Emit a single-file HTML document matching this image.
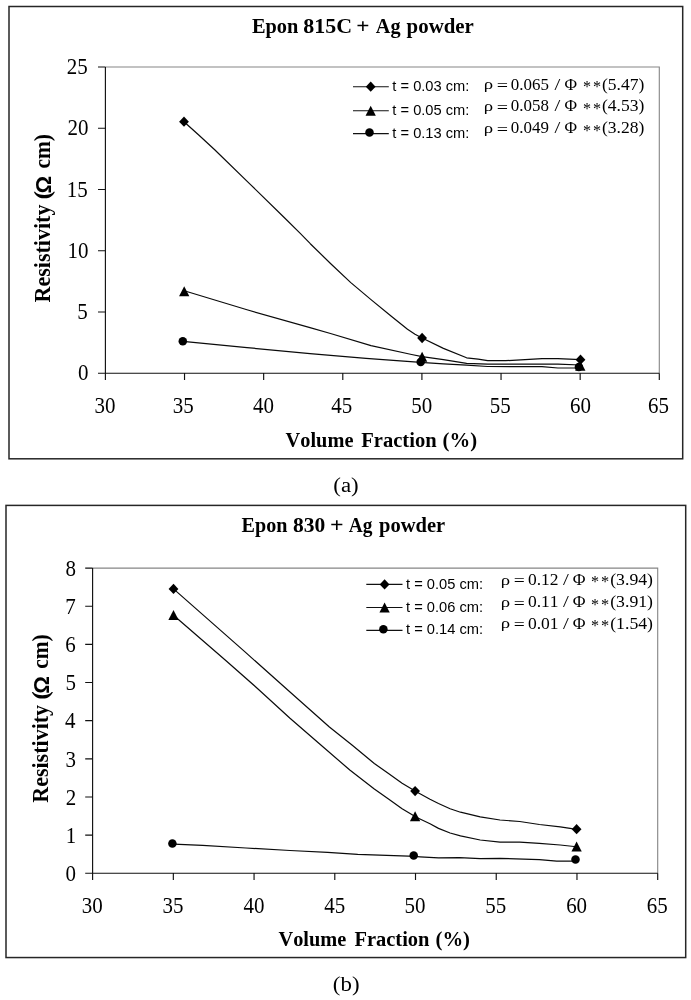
<!DOCTYPE html>
<html lang="en"><head><meta charset="utf-8"><title>Resistivity vs Volume Fraction</title>
<style>html,body{margin:0;padding:0;background:#fff}body{width:691px;height:1000px;overflow:hidden}svg{display:block}text{fill:#000;font-kerning:none}</style></head><body>
<svg width="691" height="1000" viewBox="0 0 691 1000">
<rect width="691" height="1000" fill="#fff"/>
<rect x="9" y="6.5" width="673.7" height="452.3" fill="#fff" stroke="#262626" stroke-width="1.5"/>
<path d="M105.4 67H659.3V373.2" fill="none" stroke="#858585" stroke-width="1.1"/>
<path d="M105.4 67V380M98 373.2H659.3M98 311.96H105.4M98 250.72H105.4M98 189.48H105.4M98 128.24H105.4M98 67H105.4M184.53 373.2V380M263.66 373.2V380M342.79 373.2V380M421.91 373.2V380M501.04 373.2V380M580.17 373.2V380M659.3 373.2V380" fill="none" stroke="#111" stroke-width="1.15"/>
<text font-family='"Liberation Serif", "DejaVu Serif", serif' font-size="23.3"><tspan x="77.91" y="380.4" textLength="10.48" lengthAdjust="spacingAndGlyphs">0</tspan></text>
<text font-family='"Liberation Serif", "DejaVu Serif", serif' font-size="23.3"><tspan x="77.13" y="319.16" textLength="10.49" lengthAdjust="spacingAndGlyphs">5</tspan></text>
<text font-family='"Liberation Serif", "DejaVu Serif", serif' font-size="23.3"><tspan x="67.43" y="257.92" textLength="20.97" lengthAdjust="spacingAndGlyphs">10</tspan></text>
<text font-family='"Liberation Serif", "DejaVu Serif", serif' font-size="23.3"><tspan x="66.65" y="196.68" textLength="20.97" lengthAdjust="spacingAndGlyphs">15</tspan></text>
<text font-family='"Liberation Serif", "DejaVu Serif", serif' font-size="23.3"><tspan x="67.43" y="135.44" textLength="20.97" lengthAdjust="spacingAndGlyphs">20</tspan></text>
<text font-family='"Liberation Serif", "DejaVu Serif", serif' font-size="23.3"><tspan x="66.65" y="74.2" textLength="20.97" lengthAdjust="spacingAndGlyphs">25</tspan></text>
<text font-family='"Liberation Serif", "DejaVu Serif", serif' font-size="23.3"><tspan x="94.51" y="413.2" textLength="20.97" lengthAdjust="spacingAndGlyphs">30</tspan></text>
<text font-family='"Liberation Serif", "DejaVu Serif", serif' font-size="23.3"><tspan x="172.75" y="413.2" textLength="20.97" lengthAdjust="spacingAndGlyphs">35</tspan></text>
<text font-family='"Liberation Serif", "DejaVu Serif", serif' font-size="23.3"><tspan x="253.07" y="413.2" textLength="20.97" lengthAdjust="spacingAndGlyphs">40</tspan></text>
<text font-family='"Liberation Serif", "DejaVu Serif", serif' font-size="23.3"><tspan x="331.21" y="413.2" textLength="20.97" lengthAdjust="spacingAndGlyphs">45</tspan></text>
<text font-family='"Liberation Serif", "DejaVu Serif", serif' font-size="23.3"><tspan x="411.32" y="413.2" textLength="20.97" lengthAdjust="spacingAndGlyphs">50</tspan></text>
<text font-family='"Liberation Serif", "DejaVu Serif", serif' font-size="23.3"><tspan x="489.76" y="413.2" textLength="20.97" lengthAdjust="spacingAndGlyphs">55</tspan></text>
<text font-family='"Liberation Serif", "DejaVu Serif", serif' font-size="23.3"><tspan x="569.94" y="413.2" textLength="20.97" lengthAdjust="spacingAndGlyphs">60</tspan></text>
<text font-family='"Liberation Serif", "DejaVu Serif", serif' font-size="23.3"><tspan x="648.07" y="413.2" textLength="20.97" lengthAdjust="spacingAndGlyphs">65</tspan></text>
<path d="M184 121.8L199 135.3L214.7 149.7L249.5 183.6L284.2 217.5L300 233.1L310.3 243.7L330.5 263.5L350.8 282.6L371 299.6L391.3 316.2L407.5 329.2L415 334.2L422.1 338L443.4 348.4L466.6 357.8L478.1 359.2L487.6 360.7L505.8 360.7L542 358.6L557.9 358.6L580.5 359.7" fill="none" stroke="#0a0a0a" stroke-width="1.2" stroke-linejoin="round"/>
<path d="M184.2 290.8L247 309.8L310 327.6L330.5 333.5L371 345.6L411.6 354.5L422.1 356.6L443.4 359.6L466.6 363.3L487.6 364.2L542 364.1L557.9 364.2L580.3 365" fill="none" stroke="#0a0a0a" stroke-width="1.2" stroke-linejoin="round"/>
<path d="M183 341.3L247 347.6L310 353.7L366 358.4L420.7 362.4L443.4 363.9L466.6 365.2L487.6 366.5L542 366.7L557.9 368L579 368" fill="none" stroke="#0a0a0a" stroke-width="1.2" stroke-linejoin="round"/>
<g fill="#000">
<circle cx="182.8" cy="341.3" r="4.25"/>
<circle cx="420.7" cy="361.9" r="4.25"/>
<circle cx="578.9" cy="367" r="4.25"/>
<path d="M184.2 286.2L189.35 296.15L179.05 296.15Z"/>
<path d="M422.1 351.8L427.25 361.75L416.95 361.75Z"/>
<path d="M580.3 360.8L585.45 370.75L575.15 370.75Z"/>
<path d="M184 116.55L188.9 121.7L184 126.85L179.1 121.7Z"/>
<path d="M422.1 332.85L427 338L422.1 343.15L417.2 338Z"/>
<path d="M580.5 354.55L585.4 359.7L580.5 364.85L575.6 359.7Z"/>
</g>
<path d="M353 86.7H388.8" stroke="#111" stroke-width="1.15"/>
<path d="M353 110.7H388.8" stroke="#111" stroke-width="1.15"/>
<path d="M353 133.6H388.8" stroke="#111" stroke-width="1.15"/>
<g fill="#000">
<path d="M370.7 81.55L375.6 86.7L370.7 91.85L365.8 86.7Z"/>
<path d="M370.7 105.7L375.85 115.65L365.55 115.65Z"/>
<circle cx="369.5" cy="132.6" r="4.25"/>
</g>
<text font-family='"Liberation Sans", "DejaVu Sans", sans-serif' font-size="14.1"><tspan x="392.38" y="90.8" textLength="76.96" lengthAdjust="spacingAndGlyphs">t = 0.03 cm:</tspan></text>
<text font-family='"Liberation Sans", "DejaVu Sans", sans-serif' font-size="14.1"><tspan x="392.38" y="114.8" textLength="76.96" lengthAdjust="spacingAndGlyphs">t = 0.05 cm:</tspan></text>
<text font-family='"Liberation Sans", "DejaVu Sans", sans-serif' font-size="14.1"><tspan x="392.38" y="137.7" textLength="76.96" lengthAdjust="spacingAndGlyphs">t = 0.13 cm:</tspan></text>
<text font-family='"Liberation Serif", "DejaVu Serif", serif' font-size="15"><tspan x="483.69" y="89.2" textLength="9.37" lengthAdjust="spacingAndGlyphs">ρ</tspan> <tspan x="496.7" y="91" font-family='"Liberation Serif", "DejaVu Serif", serif' font-size="16.2" textLength="11.27" lengthAdjust="spacingAndGlyphs">=</tspan> <tspan x="510.85" y="89.5" font-family='"Liberation Serif", "DejaVu Serif", serif' font-size="16.2" textLength="38.11" lengthAdjust="spacingAndGlyphs">0.065</tspan> <tspan x="554.5" y="89.5" font-family='"Liberation Serif", "DejaVu Serif", serif' font-size="16.2" textLength="5.8" lengthAdjust="spacingAndGlyphs">/</tspan> <tspan x="564.48" y="89.5" font-family='"Liberation Serif", "DejaVu Serif", serif' font-size="16.2" textLength="12.54" lengthAdjust="spacingAndGlyphs">Φ</tspan> <tspan x="583.11" y="92.1" font-family='"Liberation Serif", "DejaVu Serif", serif' font-size="16.2" textLength="8.06" lengthAdjust="spacingAndGlyphs">*</tspan> <tspan x="593.01" y="92.1" font-family='"Liberation Serif", "DejaVu Serif", serif' font-size="16.2" textLength="8.06" lengthAdjust="spacingAndGlyphs">*</tspan> <tspan x="602.03" y="89.5" font-family='"Liberation Serif", "DejaVu Serif", serif' font-size="16.2" textLength="42.34" lengthAdjust="spacingAndGlyphs">(5.47)</tspan></text>
<text font-family='"Liberation Serif", "DejaVu Serif", serif' font-size="15"><tspan x="483.69" y="111.1" textLength="9.37" lengthAdjust="spacingAndGlyphs">ρ</tspan> <tspan x="496.7" y="112.9" font-family='"Liberation Serif", "DejaVu Serif", serif' font-size="16.2" textLength="11.27" lengthAdjust="spacingAndGlyphs">=</tspan> <tspan x="510.86" y="111.4" font-family='"Liberation Serif", "DejaVu Serif", serif' font-size="16.2" textLength="38.09" lengthAdjust="spacingAndGlyphs">0.058</tspan> <tspan x="554.5" y="111.4" font-family='"Liberation Serif", "DejaVu Serif", serif' font-size="16.2" textLength="5.8" lengthAdjust="spacingAndGlyphs">/</tspan> <tspan x="564.48" y="111.4" font-family='"Liberation Serif", "DejaVu Serif", serif' font-size="16.2" textLength="12.54" lengthAdjust="spacingAndGlyphs">Φ</tspan> <tspan x="583.11" y="114" font-family='"Liberation Serif", "DejaVu Serif", serif' font-size="16.2" textLength="8.06" lengthAdjust="spacingAndGlyphs">*</tspan> <tspan x="593.01" y="114" font-family='"Liberation Serif", "DejaVu Serif", serif' font-size="16.2" textLength="8.06" lengthAdjust="spacingAndGlyphs">*</tspan> <tspan x="602.03" y="111.4" font-family='"Liberation Serif", "DejaVu Serif", serif' font-size="16.2" textLength="42.34" lengthAdjust="spacingAndGlyphs">(4.53)</tspan></text>
<text font-family='"Liberation Serif", "DejaVu Serif", serif' font-size="15"><tspan x="483.69" y="132.9" textLength="9.37" lengthAdjust="spacingAndGlyphs">ρ</tspan> <tspan x="496.7" y="134.7" font-family='"Liberation Serif", "DejaVu Serif", serif' font-size="16.2" textLength="11.27" lengthAdjust="spacingAndGlyphs">=</tspan> <tspan x="510.85" y="133.2" font-family='"Liberation Serif", "DejaVu Serif", serif' font-size="16.2" textLength="38.14" lengthAdjust="spacingAndGlyphs">0.049</tspan> <tspan x="554.5" y="133.2" font-family='"Liberation Serif", "DejaVu Serif", serif' font-size="16.2" textLength="5.8" lengthAdjust="spacingAndGlyphs">/</tspan> <tspan x="564.48" y="133.2" font-family='"Liberation Serif", "DejaVu Serif", serif' font-size="16.2" textLength="12.54" lengthAdjust="spacingAndGlyphs">Φ</tspan> <tspan x="583.11" y="135.8" font-family='"Liberation Serif", "DejaVu Serif", serif' font-size="16.2" textLength="8.06" lengthAdjust="spacingAndGlyphs">*</tspan> <tspan x="593.01" y="135.8" font-family='"Liberation Serif", "DejaVu Serif", serif' font-size="16.2" textLength="8.06" lengthAdjust="spacingAndGlyphs">*</tspan> <tspan x="602.03" y="133.2" font-family='"Liberation Serif", "DejaVu Serif", serif' font-size="16.2" textLength="42.34" lengthAdjust="spacingAndGlyphs">(3.28)</tspan></text>
<text font-family='"Liberation Serif", "DejaVu Serif", serif' font-size="20.3" font-weight="bold"><tspan x="251.95" y="33.1" textLength="46.36" lengthAdjust="spacingAndGlyphs">Epon</tspan> <tspan x="303.27" y="33.1" textLength="48.8" lengthAdjust="spacingAndGlyphs">815C</tspan> <tspan x="356.27" y="33.1" textLength="13.24" lengthAdjust="spacingAndGlyphs">+</tspan> <tspan x="375.8" y="33.1" textLength="24.69" lengthAdjust="spacingAndGlyphs">Ag</tspan> <tspan x="406.64" y="33.1" textLength="67.21" lengthAdjust="spacingAndGlyphs">powder</tspan></text>
<text font-family='"Liberation Serif", "DejaVu Serif", serif' font-size="20.6" font-weight="bold"><tspan x="285.57" y="447" textLength="67.86" lengthAdjust="spacingAndGlyphs">Volume</tspan> <tspan x="361.25" y="447" textLength="75.36" lengthAdjust="spacingAndGlyphs">Fraction</tspan> <tspan x="442.59" y="447" textLength="34.52" lengthAdjust="spacingAndGlyphs">(%)</tspan></text>
<text transform="translate(49.7 302.1) rotate(-90)" font-family='"Liberation Serif", "DejaVu Serif", serif' font-size="22.6" font-weight="bold"><tspan x="-0.38" y="0" textLength="97.89" lengthAdjust="spacingAndGlyphs">Resistivity</tspan> <tspan x="102.55" y="0" textLength="8.69" lengthAdjust="spacingAndGlyphs">(</tspan> <tspan x="108.61" y="1.7" font-family='"Liberation Sans", "DejaVu Sans", sans-serif' font-size="22.4" font-weight="bold" textLength="17.58" lengthAdjust="spacingAndGlyphs">Ω</tspan> <tspan x="133.57" y="0" textLength="34.37" lengthAdjust="spacingAndGlyphs">cm)</tspan></text>
<text font-family='"Liberation Serif", "DejaVu Serif", serif' font-size="21.6"><tspan x="333.29" y="491.5" textLength="25.41" lengthAdjust="spacingAndGlyphs">(a)</tspan></text>
<rect x="6" y="505.4" width="679.7" height="452.15" fill="#fff" stroke="#262626" stroke-width="1.5"/>
<path d="M92.6 568.1H657.7V873.25" fill="none" stroke="#858585" stroke-width="1.1"/>
<path d="M92.6 568.1V880.05M85.2 873.25H657.7M85.2 835.11H92.6M85.2 796.96H92.6M85.2 758.82H92.6M85.2 720.67H92.6M85.2 682.53H92.6M85.2 644.39H92.6M85.2 606.24H92.6M85.2 568.1H92.6M173.33 873.25V880.05M254.06 873.25V880.05M334.79 873.25V880.05M415.51 873.25V880.05M496.24 873.25V880.05M576.97 873.25V880.05M657.7 873.25V880.05" fill="none" stroke="#111" stroke-width="1.15"/>
<text font-family='"Liberation Serif", "DejaVu Serif", serif' font-size="23.3"><tspan x="65.41" y="880.95" textLength="10.48" lengthAdjust="spacingAndGlyphs">0</tspan></text>
<text font-family='"Liberation Serif", "DejaVu Serif", serif' font-size="23.3"><tspan x="65.87" y="842.81" textLength="10.48" lengthAdjust="spacingAndGlyphs">1</tspan></text>
<text font-family='"Liberation Serif", "DejaVu Serif", serif' font-size="23.3"><tspan x="65.77" y="804.66" textLength="10.48" lengthAdjust="spacingAndGlyphs">2</tspan></text>
<text font-family='"Liberation Serif", "DejaVu Serif", serif' font-size="23.3"><tspan x="65.43" y="766.52" textLength="10.48" lengthAdjust="spacingAndGlyphs">3</tspan></text>
<text font-family='"Liberation Serif", "DejaVu Serif", serif' font-size="23.3"><tspan x="64.94" y="728.38" textLength="10.49" lengthAdjust="spacingAndGlyphs">4</tspan></text>
<text font-family='"Liberation Serif", "DejaVu Serif", serif' font-size="23.3"><tspan x="65.43" y="690.23" textLength="10.49" lengthAdjust="spacingAndGlyphs">5</tspan></text>
<text font-family='"Liberation Serif", "DejaVu Serif", serif' font-size="23.3"><tspan x="65.24" y="652.09" textLength="10.49" lengthAdjust="spacingAndGlyphs">6</tspan></text>
<text font-family='"Liberation Serif", "DejaVu Serif", serif' font-size="23.3"><tspan x="65.22" y="613.94" textLength="10.49" lengthAdjust="spacingAndGlyphs">7</tspan></text>
<text font-family='"Liberation Serif", "DejaVu Serif", serif' font-size="23.3"><tspan x="65.41" y="575.8" textLength="10.48" lengthAdjust="spacingAndGlyphs">8</tspan></text>
<text font-family='"Liberation Serif", "DejaVu Serif", serif' font-size="23.3"><tspan x="81.71" y="913.2" textLength="20.97" lengthAdjust="spacingAndGlyphs">30</tspan></text>
<text font-family='"Liberation Serif", "DejaVu Serif", serif' font-size="23.3"><tspan x="162.45" y="913.2" textLength="20.97" lengthAdjust="spacingAndGlyphs">35</tspan></text>
<text font-family='"Liberation Serif", "DejaVu Serif", serif' font-size="23.3"><tspan x="243.47" y="913.2" textLength="20.97" lengthAdjust="spacingAndGlyphs">40</tspan></text>
<text font-family='"Liberation Serif", "DejaVu Serif", serif' font-size="23.3"><tspan x="324.21" y="913.2" textLength="20.97" lengthAdjust="spacingAndGlyphs">45</tspan></text>
<text font-family='"Liberation Serif", "DejaVu Serif", serif' font-size="23.3"><tspan x="404.52" y="913.2" textLength="20.97" lengthAdjust="spacingAndGlyphs">50</tspan></text>
<text font-family='"Liberation Serif", "DejaVu Serif", serif' font-size="23.3"><tspan x="485.26" y="913.2" textLength="20.97" lengthAdjust="spacingAndGlyphs">55</tspan></text>
<text font-family='"Liberation Serif", "DejaVu Serif", serif' font-size="23.3"><tspan x="566.14" y="913.2" textLength="20.97" lengthAdjust="spacingAndGlyphs">60</tspan></text>
<text font-family='"Liberation Serif", "DejaVu Serif", serif' font-size="23.3"><tspan x="646.87" y="913.2" textLength="20.97" lengthAdjust="spacingAndGlyphs">65</tspan></text>
<path d="M173.5 588.9L245 651.9L290 692L329.4 727L352.3 745.3L374.3 763.5L388.5 773.6L402.1 783.2L415.1 791.1L420 793.8L430 799.2L438.5 803.5L450.1 808.7L460.5 812.2L480.2 816.8L500 820L519.7 821.5L539.4 824.5L560.2 826.8L571.8 828.6L576.6 829.2" fill="none" stroke="#0a0a0a" stroke-width="1.2" stroke-linejoin="round"/>
<path d="M173.5 615.2L225.2 660L258.3 689.2L290 718.2L320 744.3L349.8 770L374.3 789L388.5 799.1L402.1 808.7L415.1 816.6L420 819L430 823.8L438.5 828.4L450.1 833L460.5 835.9L480.2 840L500 842.2L519.7 842.2L539.4 843.4L560.2 845L574.1 846.5L576.6 846.8" fill="none" stroke="#0a0a0a" stroke-width="1.2" stroke-linejoin="round"/>
<path d="M173.5 844.2L202.6 845.3L246 848L290 850.5L327.6 852.3L357.7 854.4L408.5 856.2L415 856.4L420 856.8L438.5 857.9L459.4 857.7L480.2 858.7L500 858.4L539.4 859.6L556.7 861.2L571.8 861.2L576.6 860.6" fill="none" stroke="#0a0a0a" stroke-width="1.2" stroke-linejoin="round"/>
<g fill="#000">
<circle cx="172.4" cy="843.5" r="4.25"/>
<circle cx="413.7" cy="855.4" r="4.25"/>
<circle cx="575.5" cy="859.6" r="4.25"/>
<path d="M173.5 610L178.65 619.95L168.35 619.95Z"/>
<path d="M415.1 811.2L420.25 821.15L409.95 821.15Z"/>
<path d="M576.6 841.6L581.75 851.55L571.45 851.55Z"/>
<path d="M173.5 583.75L178.4 588.9L173.5 594.05L168.6 588.9Z"/>
<path d="M415.1 785.95L420 791.1L415.1 796.25L410.2 791.1Z"/>
<path d="M576.6 824.05L581.5 829.2L576.6 834.35L571.7 829.2Z"/>
</g>
<path d="M366.3 584.4H402.5" stroke="#111" stroke-width="1.15"/>
<path d="M366.3 607.5H402.5" stroke="#111" stroke-width="1.15"/>
<path d="M366.3 630.3H402.5" stroke="#111" stroke-width="1.15"/>
<g fill="#000">
<path d="M384.6 579.25L389.5 584.4L384.6 589.55L379.7 584.4Z"/>
<path d="M384.6 602.5L389.75 612.45L379.45 612.45Z"/>
<circle cx="383.4" cy="629.3" r="4.25"/>
</g>
<text font-family='"Liberation Sans", "DejaVu Sans", sans-serif' font-size="14.1"><tspan x="406.08" y="588.5" textLength="77.06" lengthAdjust="spacingAndGlyphs">t = 0.05 cm:</tspan></text>
<text font-family='"Liberation Sans", "DejaVu Sans", sans-serif' font-size="14.1"><tspan x="406.08" y="611.6" textLength="77.06" lengthAdjust="spacingAndGlyphs">t = 0.06 cm:</tspan></text>
<text font-family='"Liberation Sans", "DejaVu Sans", sans-serif' font-size="14.1"><tspan x="406.08" y="634.4" textLength="77.06" lengthAdjust="spacingAndGlyphs">t = 0.14 cm:</tspan></text>
<text font-family='"Liberation Serif", "DejaVu Serif", serif' font-size="15"><tspan x="500.79" y="584.5" textLength="9.37" lengthAdjust="spacingAndGlyphs">ρ</tspan> <tspan x="513.83" y="586.3" font-family='"Liberation Serif", "DejaVu Serif", serif' font-size="16.2" textLength="11.03" lengthAdjust="spacingAndGlyphs">=</tspan> <tspan x="527.94" y="584.8" font-family='"Liberation Serif", "DejaVu Serif", serif' font-size="16.2" textLength="30.53" lengthAdjust="spacingAndGlyphs">0.12</tspan> <tspan x="563" y="584.8" font-family='"Liberation Serif", "DejaVu Serif", serif' font-size="16.2" textLength="5.8" lengthAdjust="spacingAndGlyphs">/</tspan> <tspan x="572.67" y="584.8" font-family='"Liberation Serif", "DejaVu Serif", serif' font-size="16.2" textLength="12.76" lengthAdjust="spacingAndGlyphs">Φ</tspan> <tspan x="590.91" y="587.4" font-family='"Liberation Serif", "DejaVu Serif", serif' font-size="16.2" textLength="8.06" lengthAdjust="spacingAndGlyphs">*</tspan> <tspan x="601" y="587.4" font-family='"Liberation Serif", "DejaVu Serif", serif' font-size="16.2" textLength="8.18" lengthAdjust="spacingAndGlyphs">*</tspan> <tspan x="610.22" y="584.8" font-family='"Liberation Serif", "DejaVu Serif", serif' font-size="16.2" textLength="42.76" lengthAdjust="spacingAndGlyphs">(3.94)</tspan></text>
<text font-family='"Liberation Serif", "DejaVu Serif", serif' font-size="15"><tspan x="500.79" y="606.7" textLength="9.37" lengthAdjust="spacingAndGlyphs">ρ</tspan> <tspan x="513.83" y="608.5" font-family='"Liberation Serif", "DejaVu Serif", serif' font-size="16.2" textLength="11.03" lengthAdjust="spacingAndGlyphs">=</tspan> <tspan x="527.93" y="607" font-family='"Liberation Serif", "DejaVu Serif", serif' font-size="16.2" textLength="30.62" lengthAdjust="spacingAndGlyphs">0.11</tspan> <tspan x="563" y="607" font-family='"Liberation Serif", "DejaVu Serif", serif' font-size="16.2" textLength="5.8" lengthAdjust="spacingAndGlyphs">/</tspan> <tspan x="572.67" y="607" font-family='"Liberation Serif", "DejaVu Serif", serif' font-size="16.2" textLength="12.76" lengthAdjust="spacingAndGlyphs">Φ</tspan> <tspan x="590.91" y="609.6" font-family='"Liberation Serif", "DejaVu Serif", serif' font-size="16.2" textLength="8.06" lengthAdjust="spacingAndGlyphs">*</tspan> <tspan x="601" y="609.6" font-family='"Liberation Serif", "DejaVu Serif", serif' font-size="16.2" textLength="8.18" lengthAdjust="spacingAndGlyphs">*</tspan> <tspan x="610.22" y="607" font-family='"Liberation Serif", "DejaVu Serif", serif' font-size="16.2" textLength="42.76" lengthAdjust="spacingAndGlyphs">(3.91)</tspan></text>
<text font-family='"Liberation Serif", "DejaVu Serif", serif' font-size="15"><tspan x="500.79" y="628.4" textLength="9.37" lengthAdjust="spacingAndGlyphs">ρ</tspan> <tspan x="513.83" y="630.2" font-family='"Liberation Serif", "DejaVu Serif", serif' font-size="16.2" textLength="11.03" lengthAdjust="spacingAndGlyphs">=</tspan> <tspan x="527.93" y="628.7" font-family='"Liberation Serif", "DejaVu Serif", serif' font-size="16.2" textLength="30.62" lengthAdjust="spacingAndGlyphs">0.01</tspan> <tspan x="563" y="628.7" font-family='"Liberation Serif", "DejaVu Serif", serif' font-size="16.2" textLength="5.8" lengthAdjust="spacingAndGlyphs">/</tspan> <tspan x="572.67" y="628.7" font-family='"Liberation Serif", "DejaVu Serif", serif' font-size="16.2" textLength="12.76" lengthAdjust="spacingAndGlyphs">Φ</tspan> <tspan x="590.91" y="631.3" font-family='"Liberation Serif", "DejaVu Serif", serif' font-size="16.2" textLength="8.06" lengthAdjust="spacingAndGlyphs">*</tspan> <tspan x="601" y="631.3" font-family='"Liberation Serif", "DejaVu Serif", serif' font-size="16.2" textLength="8.18" lengthAdjust="spacingAndGlyphs">*</tspan> <tspan x="610.22" y="628.7" font-family='"Liberation Serif", "DejaVu Serif", serif' font-size="16.2" textLength="42.76" lengthAdjust="spacingAndGlyphs">(1.54)</tspan></text>
<text font-family='"Liberation Serif", "DejaVu Serif", serif' font-size="20.3" font-weight="bold"><tspan x="241.56" y="531.8" textLength="45.85" lengthAdjust="spacingAndGlyphs">Epon</tspan> <tspan x="292.99" y="531.8" textLength="32.23" lengthAdjust="spacingAndGlyphs">830</tspan> <tspan x="330.14" y="531.8" textLength="13.61" lengthAdjust="spacingAndGlyphs">+</tspan> <tspan x="348.81" y="531.8" textLength="23.68" lengthAdjust="spacingAndGlyphs">Ag</tspan> <tspan x="379.04" y="531.8" textLength="66.2" lengthAdjust="spacingAndGlyphs">powder</tspan></text>
<text font-family='"Liberation Serif", "DejaVu Serif", serif' font-size="20.6" font-weight="bold"><tspan x="278.47" y="946" textLength="67.86" lengthAdjust="spacingAndGlyphs">Volume</tspan> <tspan x="354.45" y="946" textLength="75.06" lengthAdjust="spacingAndGlyphs">Fraction</tspan> <tspan x="435.49" y="946" textLength="34.52" lengthAdjust="spacingAndGlyphs">(%)</tspan></text>
<text transform="translate(47.7 802.4) rotate(-90)" font-family='"Liberation Serif", "DejaVu Serif", serif' font-size="22.6" font-weight="bold"><tspan x="-0.38" y="0" textLength="97.89" lengthAdjust="spacingAndGlyphs">Resistivity</tspan> <tspan x="102.55" y="0" textLength="8.69" lengthAdjust="spacingAndGlyphs">(</tspan> <tspan x="108.61" y="1.7" font-family='"Liberation Sans", "DejaVu Sans", sans-serif' font-size="22.4" font-weight="bold" textLength="17.58" lengthAdjust="spacingAndGlyphs">Ω</tspan> <tspan x="133.57" y="0" textLength="34.37" lengthAdjust="spacingAndGlyphs">cm)</tspan></text>
<text font-family='"Liberation Serif", "DejaVu Serif", serif' font-size="21.6"><tspan x="332.89" y="990.7" textLength="26.71" lengthAdjust="spacingAndGlyphs">(b)</tspan></text>
</svg></body></html>
